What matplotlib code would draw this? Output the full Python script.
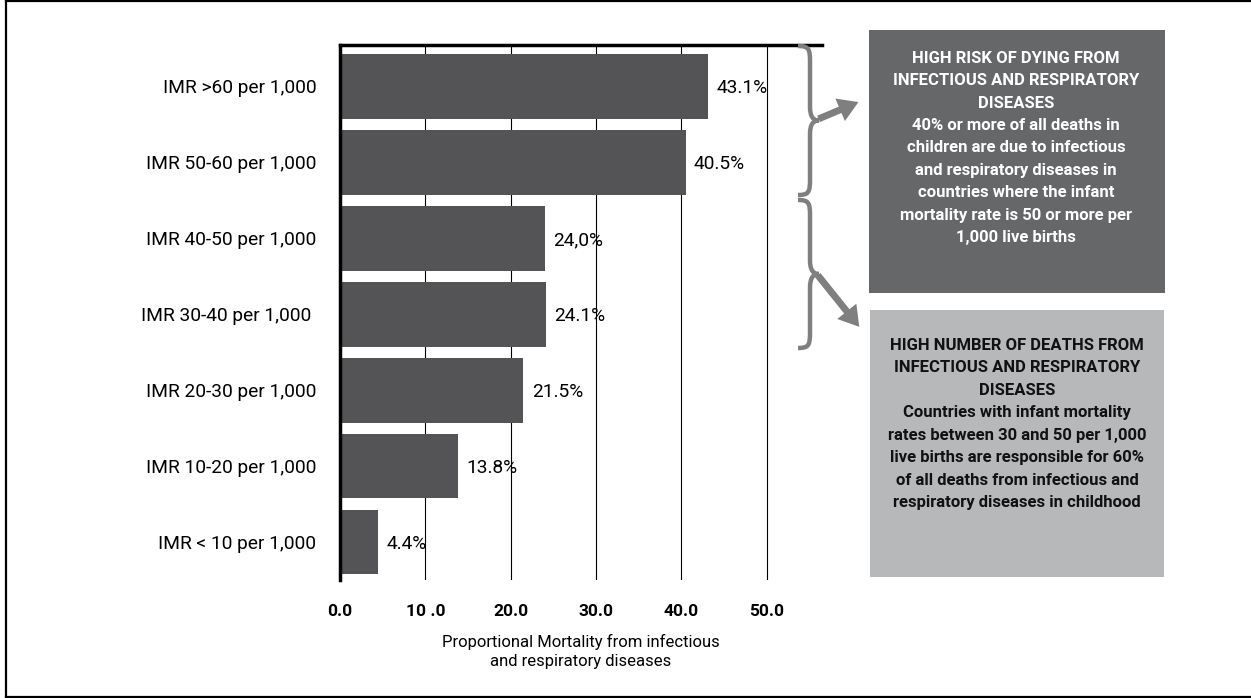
import matplotlib
matplotlib.use("Agg")
import matplotlib.pyplot as plt
from matplotlib.patches import Rectangle, PathPatch, FancyArrowPatch
from matplotlib.path import Path
from matplotlib.lines import Line2D

plt.rcParams['font.family'] = ['Roboto', 'DejaVu Sans']

categories = ["IMR >60 per 1,000", "IMR 50-60 per 1,000", "IMR 40-50 per 1,000",
              "IMR 30-40 per 1,000 ", "IMR 20-30 per 1,000", "IMR 10-20 per 1,000",
              "IMR < 10 per 1,000"]
values = [43.1, 40.5, 24.0, 24.1, 21.5, 13.8, 4.4]
value_labels = ["43.1%", "40.5%", "24,0%", "24.1%", "21.5%", "13.8%", "4.4%"]
xticks = [0, 10, 20, 30, 40, 50]
xtick_labels = ["0.0", "10 .0", "20.0", "30.0", "40.0", "50.0"]
xlabel = "Proportional Mortality from infectious\nand respiratory diseases"

box1_text = ("HIGH RISK OF DYING FROM\nINFECTIOUS AND RESPIRATORY\nDISEASES\n"
             "40% or more of all deaths in\nchildren are due to infectious\n"
             "and respiratory diseases in\ncountries where the infant\n"
             "mortality rate is 50 or more per\n1,000 live births")
box2_text = ("HIGH NUMBER OF DEATHS FROM\nINFECTIOUS AND RESPIRATORY\nDISEASES\n"
             "Countries with infant mortality\nrates between 30 and 50 per 1,000\n"
             "live births are responsible for 60%\nof all deaths from infectious and\n"
             "respiratory diseases in childhood")

W, H = 1251, 698


def px(x, y):
    # pixel (from top-left) -> figure fraction
    return x / W, 1 - y / H


fig = plt.figure(figsize=(12.51, 6.98), dpi=100)
ax = fig.add_axes([340 / W, 1 - 580 / H, 482 / W, 535 / H])

ypos = list(range(len(categories)))
ax.barh(ypos, values, height=0.855, color="#545456", zorder=2)
for y, v, lab in zip(ypos, values, value_labels):
    ax.text(v + 1.0, y + 0.03, lab, va="center", ha="left", fontsize=13.8, zorder=3)

ax.set_xlim(0, 56.5)
ax.set_ylim(6.5, -0.54)
ax.set_yticks(ypos)
ax.set_yticklabels(categories, fontsize=13.8)
ax.set_xticks(xticks)
ax.set_xticklabels(xtick_labels, fontsize=12.5, fontweight="bold")
ax.tick_params(length=0)
ax.tick_params(axis="x", pad=17)
ax.tick_params(axis="y", pad=17)
ax.set_xlabel(xlabel, fontsize=12, labelpad=11, linespacing=1.32)
ax.xaxis.grid(True, color="black", lw=0.8, zorder=1)
ax.set_axisbelow(True)
for s in ["right", "bottom"]:
    ax.spines[s].set_visible(False)
ax.spines["left"].set_linewidth(2.5)
ax.spines["top"].set_linewidth(2.5)

# outer frame
for xs, ys in [([6, 6], [1, 697]), ([6, W], [1, 1]), ([6, W], [697, 697])]:
    p0 = px(xs[0], ys[0]); p1 = px(xs[1], ys[1])
    fig.add_artist(Line2D([p0[0], p1[0]], [p0[1], p1[1]], color="black", lw=1.6,
                          transform=fig.transFigure))


def brace(top, bot, xl=798, xv=810, xp=819):
    mid = (top + bot) / 2
    pts = [(xl, top),
           (xv - 1, top), (xv, top + 3), (xv, top + 16),
           (xv, mid - 14),
           (xv, mid - 4), (xv + 3, mid), (xp, mid),
           (xv + 3, mid), (xv, mid + 4), (xv, mid + 14),
           (xv, bot - 16),
           (xv, bot - 3), (xv - 1, bot), (xl, bot)]
    codes = ([Path.MOVETO] + [Path.CURVE4] * 3 + [Path.LINETO] + [Path.CURVE4] * 6
             + [Path.LINETO] + [Path.CURVE4] * 3)
    pts = [px(*p) for p in pts]
    fig.add_artist(PathPatch(Path(pts, codes), fill=False, ec="#7f7f7f", lw=3.2,
                             transform=fig.transFigure, capstyle="butt"))


brace(46, 195)
brace(200, 348)

for start, end in [((816, 120), (861, 101)), ((816, 273), (861, 329))]:
    fig.add_artist(FancyArrowPatch(px(*start), px(*end), transform=fig.transFigure,
                                   arrowstyle="simple,head_length=1.3,head_width=1.6,tail_width=0.45",
                                   mutation_scale=11, color="#7f7f7f", lw=0))

# text boxes
x0, y0 = px(869, 293)
fig.add_artist(Rectangle((x0, y0), 296 / W, 263 / H, transform=fig.transFigure,
                         facecolor="#666769", edgecolor="none"))
x0, y0 = px(870, 577)
fig.add_artist(Rectangle((x0, y0), 294 / W, 267 / H, transform=fig.transFigure,
                         facecolor="#b7b8ba", edgecolor="none"))

fig.text(*px(1016, 148), box1_text, ha="center", va="center", color="white",
         fontsize=12, fontweight="bold", linespacing=1.62)
fig.text(*px(1017, 424), box2_text, ha="center", va="center", color="#111111",
         fontsize=12, fontweight="bold", linespacing=1.62)

fig.savefig("out.png", dpi=100)
